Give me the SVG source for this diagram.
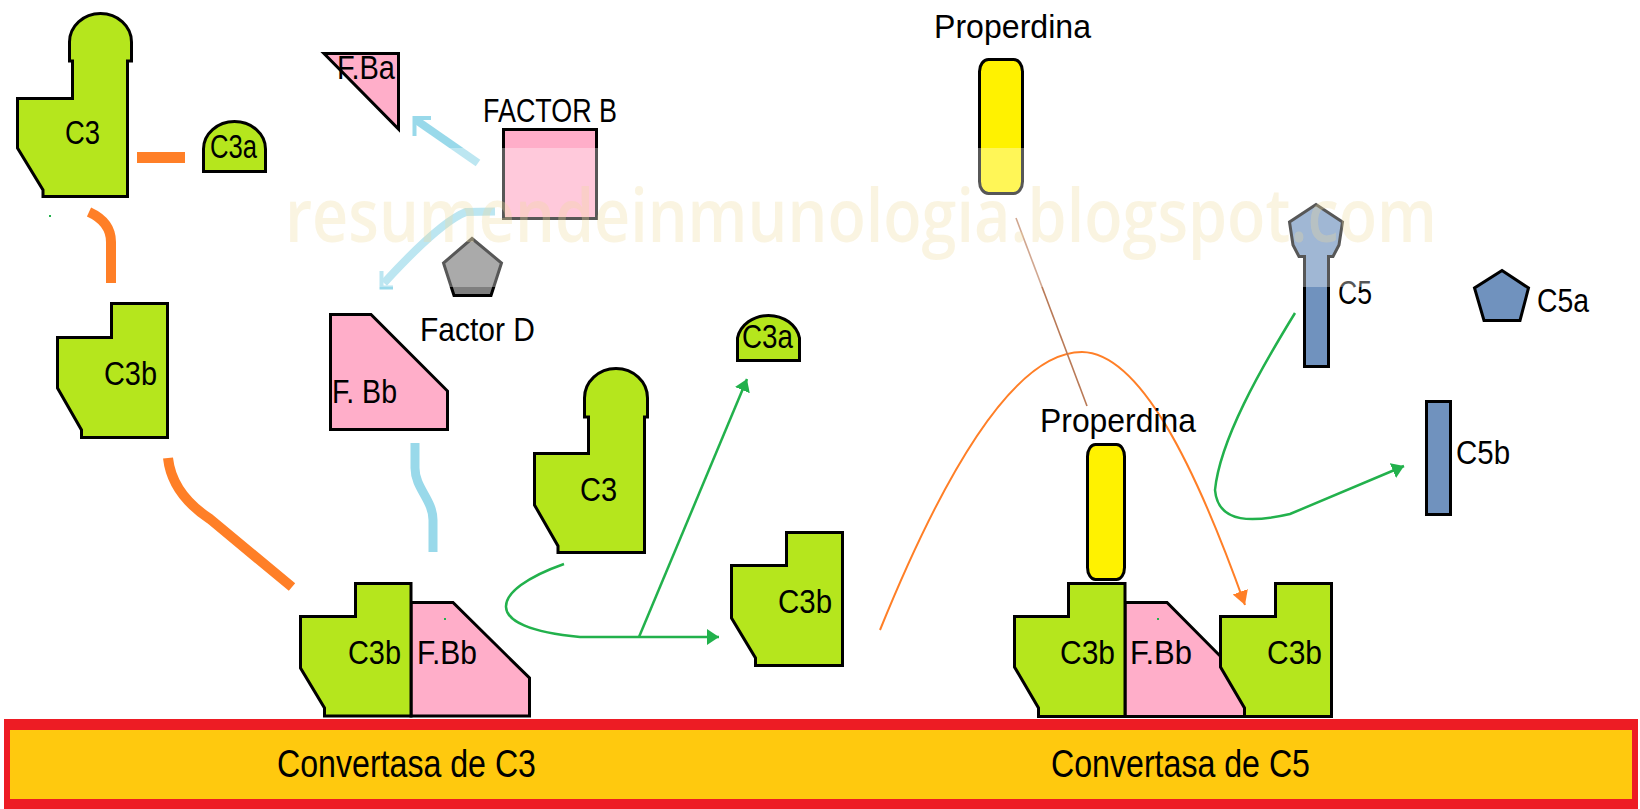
<svg xmlns="http://www.w3.org/2000/svg" width="1640" height="809" viewBox="0 0 1640 809">
  <style>
    .lbl { font-family: "Liberation Sans", Arial, sans-serif; font-size: 34px; fill: #000; }
    .big { font-family: "Liberation Sans", Arial, sans-serif; font-size: 38px; fill: #000; }
    .c3 { fill: #B5E61D; stroke: #000; stroke-width: 3; stroke-linejoin: miter; }
    .bb { fill: #FFAEC9; stroke: #000; stroke-width: 3; }
    .prop { fill: #FFF200; stroke: #000; stroke-width: 3; }
    .c5 { fill: #7092BE; stroke: #000; stroke-width: 3; }
    .fd { fill: #7F7F7F; stroke: #000; stroke-width: 3; }
    .or { fill: none; stroke: #FF7F27; stroke-linecap: butt; }
    .lb { fill: none; stroke: #99D9EA; }
    .gr { fill: none; stroke: #22B14C; stroke-width: 2.5; }
    .dot { fill: #22B14C; }
  </style>
  <defs>
    <marker id="ahG" markerUnits="userSpaceOnUse" markerWidth="14" markerHeight="18" refX="12" refY="8" orient="auto">
      <path d="M0,0 L12,8 L0,16 Z" fill="#22B14C"/>
    </marker>
    <marker id="ahO" markerUnits="userSpaceOnUse" markerWidth="16" markerHeight="18" refX="14" refY="8" orient="auto">
      <path d="M0,0 L14,8 L0,16 Z" fill="#FF7F27"/>
    </marker>
  </defs>

  <rect width="1640" height="809" fill="#fff"/>

  <!-- connectors -->
  <g id="connectors">
    <!-- C3 cleavage (left side) -->
    <line class="or" x1="137" y1="157.5" x2="185" y2="157.5" stroke-width="11"/>
    <path class="or" d="M89,212 Q111,222 111,242 L111,283" stroke-width="10"/>
    <path class="or" d="M168,458 Q172,494 210,519 L292,587" stroke-width="10"/>
    <!-- factor B cleavage -->
    <line class="lb" x1="478" y1="163" x2="416" y2="120" stroke-width="8"/>
    <path class="lb" d="M431,118 L414.5,118 L414.5,136" stroke-width="4"/>
    <path class="lb" d="M495,211.5 L466,212 Q440,222 384,283" stroke-width="8"/>
    <path class="lb" d="M381.5,271 L381.5,287.5 L393,287.5" stroke-width="4"/>
    <path class="lb" d="M415,443 L415,468 C415,488 433,500 433,520 L433,552" stroke-width="9"/>
    <!-- C3 convertase acting on C3 -->
    <path class="gr" d="M564,564 C490,590 478,628 580,637 L719,637" marker-end="url(#ahG)"/>
    <path class="gr" d="M639,637 L747,379" stroke-width="2" marker-end="url(#ahG)"/>
    <!-- C3b joining the convertase -->
    <path class="or" d="M880,630 C945,470 1015,352 1082,352 C1140,353 1195,465 1245,605" stroke-width="2" marker-end="url(#ahO)"/>
    <!-- properdin stabilising -->
    <line x1="1016" y1="218" x2="1087" y2="406" stroke="#B97A57" stroke-width="1.6"/>
    <!-- C5 cleavage -->
    <path class="gr" d="M1295,313 C1260,370 1220,440 1215,490 C1218,525 1255,522 1290,514 L1404,466" stroke-width="2.2" marker-end="url(#ahG)"/>
    <!-- small marks -->
    <rect class="dot" x="49" y="215" width="2" height="2"/>
    <rect class="dot" x="363" y="331" width="2" height="2"/>
  </g>

  <!-- free C3 -->
  <g id="c3-top">
    <path class="c3" d="M69.5,61 L69.5,42 A31,28.5 0 0 1 131.5,42 L131.5,61 L127.5,61 L127.5,196.5 L43,196.5 L43,190 L17.5,148 L17.5,98.5 L72.5,98.5 L72.5,61 Z"/>
    <text class="lbl" x="65" y="144" textLength="35" lengthAdjust="spacingAndGlyphs">C3</text>
  </g>

  <g id="c3a-top">
    <path class="c3" d="M203.5,171.5 L203.5,149 A31,27.5 0 0 1 265.5,149 L265.5,171.5 Z"/>
    <text class="lbl" x="210" y="158" textLength="47" lengthAdjust="spacingAndGlyphs">C3a</text>
  </g>

  <g id="fba">
    <path class="bb" d="M324,53.5 L398.5,53.5 L398.5,129 Z"/>
    <text class="lbl" x="337" y="79" textLength="58" lengthAdjust="spacingAndGlyphs">F.Ba</text>
  </g>

  <g id="factor-b">
    <text class="lbl" x="483" y="122" textLength="134" lengthAdjust="spacingAndGlyphs">FACTOR B</text>
    <rect class="bb" x="503.5" y="129.5" width="93" height="89"/>
  </g>

  <g id="factor-d">
    <path class="fd" d="M472,238.5 L501.5,263 L491,295.5 L454,295.5 L443.5,263 Z"/>
    <text class="lbl" x="420" y="341" textLength="115" lengthAdjust="spacingAndGlyphs">Factor D</text>
  </g>

  <g id="c3b-left">
    <path class="c3" d="M111.5,303.5 L167.5,303.5 L167.5,437.5 L81.5,437.5 L81.5,430 L57.5,388 L57.5,337.5 L111.5,337.5 Z"/>
    <text class="lbl" x="104" y="385" textLength="53" lengthAdjust="spacingAndGlyphs">C3b</text>
  </g>

  <g id="fbb-free">
    <path class="bb" d="M330.5,314.5 L371,314.5 L447.5,391 L447.5,429.5 L330.5,429.5 Z"/>
    <text class="lbl" x="332" y="403" textLength="65" lengthAdjust="spacingAndGlyphs">F. Bb</text>
  </g>

  <g id="c3-mid">
    <path class="c3" d="M584.5,417 L584.5,398 A31.5,29.5 0 0 1 647.5,398 L647.5,417 L644.5,417 L644.5,552.5 L558,552.5 L558,546 L534.5,505 L534.5,453.5 L588.5,453.5 L588.5,417 Z"/>
    <text class="lbl" x="580" y="501" textLength="37" lengthAdjust="spacingAndGlyphs">C3</text>
  </g>

  <g id="c3a-mid">
    <path class="c3" d="M737.5,360.5 L737.5,338 A31.5,27.5 0 0 1 799.5,338 L799.5,360.5 Z"/>
    <text class="lbl" x="742" y="348" textLength="51" lengthAdjust="spacingAndGlyphs">C3a</text>
  </g>

  <g id="c3b-mid">
    <path class="c3" d="M786.5,532.5 L842.5,532.5 L842.5,665.5 L755.5,665.5 L755.5,658 L731.5,618 L731.5,565.5 L786.5,565.5 Z"/>
    <text class="lbl" x="778" y="613" textLength="54" lengthAdjust="spacingAndGlyphs">C3b</text>
  </g>

  <!-- C3 convertase: C3bBb -->
  <g id="c3-convertase">
    <path class="bb" d="M411,602.5 L453,602.5 L529.5,678 L529.5,716 L411,716 Z"/>
    <path class="c3" d="M355.5,583.5 L411,583.5 L411,716 L324.5,716 L324.5,708 L300.5,668 L300.5,616.5 L355.5,616.5 Z"/>
    <text class="lbl" x="348" y="664" textLength="53" lengthAdjust="spacingAndGlyphs">C3b</text>
    <text class="lbl" x="417" y="664" textLength="60" lengthAdjust="spacingAndGlyphs">F.Bb</text>
    <rect class="dot" x="444" y="618" width="2" height="2"/>
  </g>

  <g id="properdin-free">
    <text class="lbl" x="934" y="38" textLength="157" lengthAdjust="spacingAndGlyphs">Properdina</text>
    <rect class="prop" x="979.5" y="59.5" width="43" height="134" rx="9" ry="12"/>
  </g>

  <g id="c5">
    <path class="c5" d="M1316,204.5 L1342.5,222 L1339,245 L1333,256.5 L1328.5,256.5 L1328.5,366.5 L1304.5,366.5 L1304.5,256.5 L1299,256.5 L1293,245 L1289.5,222 Z"/>
    <text class="lbl" x="1338" y="304" textLength="34" lengthAdjust="spacingAndGlyphs">C5</text>
  </g>

  <g id="c5a">
    <path class="c5" d="M1502,270.5 L1528.5,288 L1520,320.5 L1484,320.5 L1474.5,288 Z"/>
    <text class="lbl" x="1537" y="312" textLength="52" lengthAdjust="spacingAndGlyphs">C5a</text>
  </g>

  <g id="c5b">
    <rect class="c5" x="1426.5" y="401.5" width="24" height="113"/>
    <text class="lbl" x="1456" y="464" textLength="54" lengthAdjust="spacingAndGlyphs">C5b</text>
  </g>

  <!-- C5 convertase: C3bBbC3b stabilised by properdin -->
  <g id="c5-convertase">
    <text class="lbl" x="1040" y="432" textLength="156" lengthAdjust="spacingAndGlyphs">Properdina</text>
    <rect class="prop" x="1087.5" y="444.5" width="37" height="135" rx="8" ry="12"/>
    <path class="bb" d="M1125,602.5 L1167,602.5 L1245,681 L1245,716.5 L1125,716.5 Z"/>
    <path class="c3" d="M1068.5,583.5 L1125,583.5 L1125,716.5 L1038.5,716.5 L1038.5,708 L1014.5,667 L1014.5,616.5 L1068.5,616.5 Z"/>
    <path class="c3" d="M1275.5,583.5 L1331.5,583.5 L1331.5,716.5 L1244.5,716.5 L1244.5,708 L1220.5,667 L1220.5,616.5 L1275.5,616.5 Z"/>
    <text class="lbl" x="1060" y="664" textLength="55" lengthAdjust="spacingAndGlyphs">C3b</text>
    <text class="lbl" x="1130" y="664" textLength="62" lengthAdjust="spacingAndGlyphs">F.Bb</text>
    <text class="lbl" x="1267" y="664" textLength="55" lengthAdjust="spacingAndGlyphs">C3b</text>
    <rect class="dot" x="1157" y="618" width="2" height="2"/>
  </g>

  <!-- membrane bar -->
  <g id="membrane">
    <rect x="4" y="719" width="1634" height="90" fill="#ED1C24"/>
    <rect x="10" y="730" width="1622" height="69" fill="#FFC90E"/>
    <text class="big" x="277" y="777" textLength="259" lengthAdjust="spacingAndGlyphs">Convertasa de C3</text>
    <text class="big" x="1051" y="777" textLength="259" lengthAdjust="spacingAndGlyphs">Convertasa de C5</text>
  </g>

  <!-- blog watermark on a translucent strip -->
  <g id="watermark">
    <rect x="280" y="148" width="1170" height="139" fill="#fff" fill-opacity="0.34"/>
    <text x="285" y="242" font-family="'Open Sans', 'Liberation Sans', sans-serif" font-weight="600" font-size="74" textLength="1152" lengthAdjust="spacingAndGlyphs" fill="#EFDB9A" fill-opacity="0.3">resumendeinmunologia.blogspot.com</text>
  </g>
</svg>
